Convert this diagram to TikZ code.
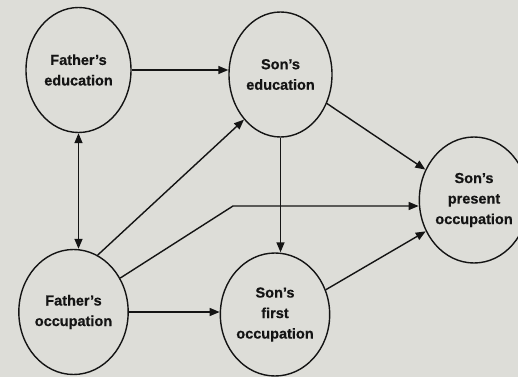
\documentclass[tikz,border=0pt]{standalone}
\usepackage{fontspec}
\setmainfont[BoldFeatures={FakeBold=0.6}]{Liberation Sans}
\usetikzlibrary{shapes.geometric,arrows.meta}
\definecolor{paper}{RGB}{221,221,216}
\definecolor{ink}{RGB}{20,20,20}
\tikzset{
  oval/.style={ellipse, draw=ink, line width=1.4pt, inner sep=0pt, align=center,
    font=\fontsize{14.5}{20.5}\selectfont\bfseries, text=ink},
  link/.style={draw=ink, line width=1.4pt, -{Triangle[length=10pt,width=8pt]}},
  dlink/.style={draw=ink, line width=1.4pt, {Triangle[length=10pt,width=8pt]}-{Triangle[length=10pt,width=8pt]}}
}
\begin{document}
\begin{tikzpicture}[x=1pt,y=-1pt]
\fill[paper] (0,0) rectangle (518,377);
\useasboundingbox (0,0) rectangle (518,377);
\node[oval, minimum width=105pt, minimum height=125pt] (FE) at (78.5,70) {Father's\\education};
\node[oval, minimum width=103pt, minimum height=125pt] (SE) at (280.5,74.5) {Son's\\education};
\node[oval, minimum width=90pt, minimum height=126pt] (SP) at (474,200) {Son's\\present\\occupation};
\node[oval, minimum width=105pt, minimum height=125pt] (FO) at (73.5,312) {Father's\\occupation};
\node[oval, minimum width=104pt, minimum height=123pt] (SF) at (275,314.5) {Son's\\first\\occupation};
\coordinate (k) at (233,206);
\draw[link] (FE.east) -- (FE.east -| SE.west);
\draw[dlink] (FE.south) -- (FE.south |- FO.north);
\draw[link] (FO.67) -- (SE.231);
\draw[link] (FO.36) -- (k) -- (k -| SP.west);
\draw[link] (SE.south) -- (SE.south |- SF.north);
\draw[link] (SE.-32) -- (SP.148);
\draw[link] (FO.east) -- (FO.east -| SF.west);
\draw[link] (SF.26) -- (SP.213);
\end{tikzpicture}
\end{document}
